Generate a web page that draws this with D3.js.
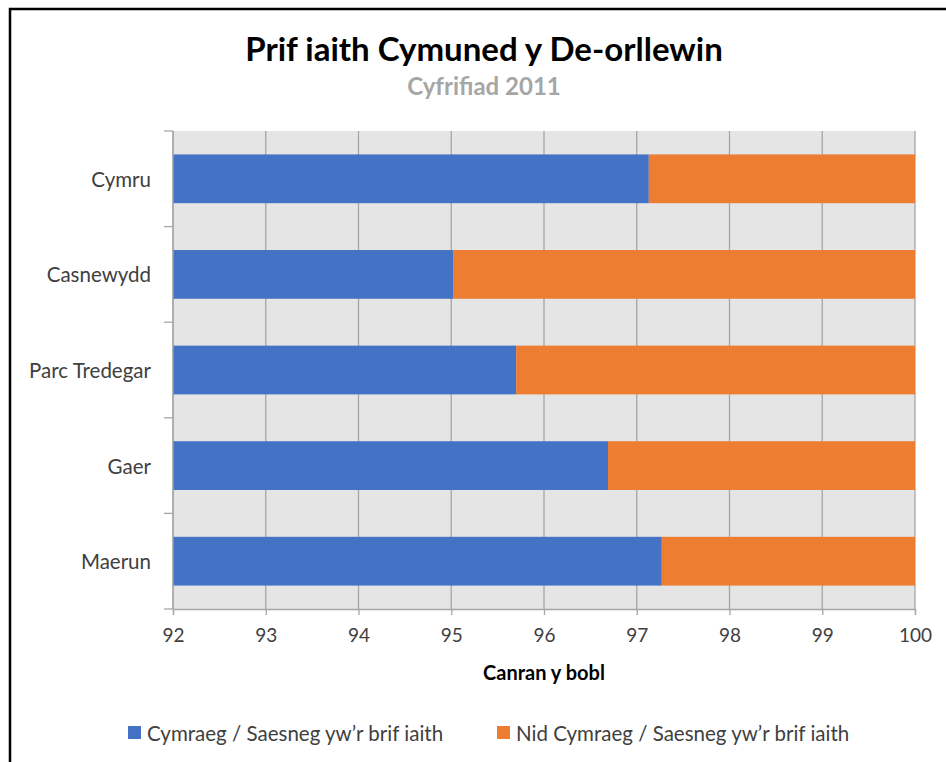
<!DOCTYPE html>
<html>
<head>
<meta charset="utf-8">
<script src="https://cdn.jsdelivr.net/npm/d3@7/dist/d3.min.js"></script>
<style>
  html, body { margin: 0; padding: 0; background: #fff; }
  svg { display: block; font-family: Lato, "Open Sans", sans-serif; }
</style>
</head>
<body>
<svg id="chart" width="946" height="762"></svg>
<script>
// Areas, top to bottom
const categories = ["Cymru", "Casnewydd", "Parc Tredegar", "Gaer", "Maerun"];
// Share of people whose main language is Welsh or English (%)
const mainLangValues = [97.13, 95.02, 95.70, 96.69, 97.27];
// Share whose main language is not Welsh or English (%)
const otherLangValues = [2.87, 4.98, 4.30, 3.31, 2.73];
const seriesNames = ["Cymraeg / Saesneg yw’r brif iaith", "Nid Cymraeg / Saesneg yw’r brif iaith"];
const seriesColors = ["#4472c4", "#ed7d31"];
const xTicks = [92, 93, 94, 95, 96, 97, 98, 99, 100];

const svg = d3.select("#chart");

// Outer frame
svg.append("path")
  .attr("d", "M10,762 V9 H946")
  .attr("fill", "none").attr("stroke", "#000").attr("stroke-width", 2.5);

const plot = { left: 173, right: 915, top: 131, bottom: 609 };

const x = d3.scaleLinear().domain([92, 100]).range([plot.left, plot.right]);
const y = d3.scaleBand().domain(categories).range([plot.top, plot.bottom]).paddingInner(0.49).paddingOuter(0.245);
const yOuter = d3.scaleBand().domain(categories).range([plot.top, plot.bottom]);

// Plot background
svg.append("rect")
  .attr("x", plot.left).attr("y", plot.top)
  .attr("width", plot.right - plot.left).attr("height", plot.bottom - plot.top)
  .attr("fill", "#e5e5e5");

// Vertical gridlines
svg.append("g").selectAll("line").data(xTicks).join("line")
  .attr("x1", d => x(d)).attr("x2", d => x(d))
  .attr("y1", plot.top).attr("y2", plot.bottom)
  .attr("stroke", "#a6a6a6").attr("stroke-width", 1.3);

// Stacked bars (the axis starts at 92, so the first segment is clipped there)
const rows = categories.map((c, i) => ({ cat: c, a: mainLangValues[i], b: otherLangValues[i] }));
const stack = d3.stack().keys(["a", "b"])(rows);
const barG = svg.append("g");
stack.forEach((layer, li) => {
  barG.append("g").attr("fill", seriesColors[li])
    .selectAll("rect").data(layer).join("rect")
    .attr("x", d => x(Math.max(92, d[0])))
    .attr("width", d => x(d[1]) - x(Math.max(92, d[0])))
    .attr("y", d => y(d.data.cat))
    .attr("height", y.bandwidth());
});

// Y axis: line and category boundary ticks
const yAxisG = svg.append("g");
yAxisG.append("line")
  .attr("x1", plot.left).attr("x2", plot.left)
  .attr("y1", plot.top).attr("y2", plot.bottom)
  .attr("stroke", "#a6a6a6").attr("stroke-width", 1.3);
const bounds = categories.map(c => yOuter(c)).concat([plot.bottom]);
yAxisG.selectAll("line.tick").data(bounds).join("line")
  .attr("class", "tick")
  .attr("x1", plot.left - 9).attr("x2", plot.left)
  .attr("y1", d => d).attr("y2", d => d)
  .attr("stroke", "#a6a6a6").attr("stroke-width", 1.3);
yAxisG.selectAll("text").data(categories).join("text")
  .attr("x", 151).attr("y", d => yOuter(d) + yOuter.bandwidth() / 2)
  .attr("text-anchor", "end").attr("dominant-baseline", "central")
  .attr("font-size", 20.5).attr("fill", "#404040")
  .text(d => d);

// X axis
const xAxis = d3.axisBottom(x).tickValues(xTicks).tickSize(6).tickPadding(14).tickFormat(d3.format("d"));
const xAxisG = svg.append("g").attr("transform", `translate(0,${plot.bottom})`).call(xAxis);
xAxisG.select(".domain").attr("stroke", "#a6a6a6").attr("stroke-width", 1.3);
xAxisG.selectAll(".tick line").attr("stroke", "#a6a6a6").attr("stroke-width", 1.3);
xAxisG.selectAll(".tick text")
  .attr("font-size", 19).attr("fill", "#404040")
  .attr("font-family", "Lato, 'Open Sans', sans-serif");

// Axis title
svg.append("text")
  .attr("x", (plot.left + plot.right) / 2).attr("y", 680)
  .attr("text-anchor", "middle").attr("font-size", 20).attr("font-weight", "bold").attr("fill", "#000")
  .text("Canran y bobl");

// Titles
svg.append("text")
  .attr("x", 484).attr("y", 61)
  .attr("text-anchor", "middle").attr("font-size", 33).attr("font-weight", "bold").attr("fill", "#000")
  .text("Prif iaith Cymuned y De-orllewin");
svg.append("text")
  .attr("x", 484).attr("y", 95)
  .attr("text-anchor", "middle").attr("font-size", 24).attr("font-weight", "bold").attr("fill", "#a6a6a6")
  .text("Cyfrifiad 2011");

// Legend
const legendX = [128, 497];
const legend = svg.append("g");
seriesNames.forEach((name, i) => {
  legend.append("rect")
    .attr("x", legendX[i]).attr("y", 726).attr("width", 13).attr("height", 13)
    .attr("fill", seriesColors[i]);
  legend.append("text")
    .attr("x", legendX[i] + 19).attr("y", 733)
    .attr("dominant-baseline", "central")
    .attr("font-size", 20.5).attr("fill", "#404040")
    .text(name);
});
</script>
</body>
</html>
